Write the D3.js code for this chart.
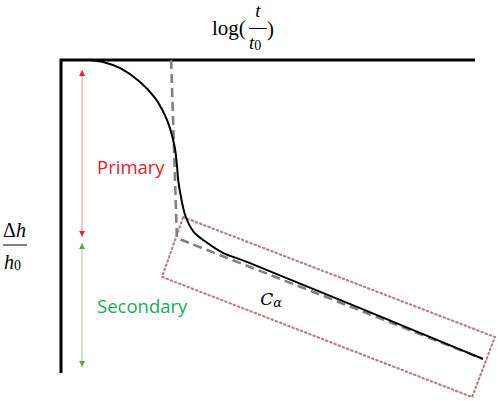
<!DOCTYPE html>
<html><head><meta charset="utf-8">
<script src="https://cdn.jsdelivr.net/npm/d3@7"></script>
<style>body{margin:0;background:#fff}svg{display:block}</style>
</head><body><svg id="c" width="498" height="401"></svg>
<script>
// consolidation curve: x = log(t/t0) (0..100), y = Δh/h0 (0..100)
const curveX = [7.0,10.6,14.3,19.1,22.7,25.1,26.3,27.5,28.0,28.3,28.8,30.1,32.0,35.3,39.1,44.9,101.9];
const curveY = [0,0.8,2.6,7.0,12.1,17.6,21.7,28.1,33.5,38.3,42.5,50.0,54.8,58.4,61.6,64.5,95.5];
// tangent construction (dashed)
const asymX = [26.6,28.0,101.9];
const asymY = [0,56.9,95.5];
// dotted box around secondary slope
const boxX = [29.5,104.8,99.3,24.4];
const boxY = [50.2,88.5,107.7,69.3];
// phases
const phases = ["Primary","Secondary"];
const phaseStart = [3.2,58.5];
const phaseEnd = [56.5,98.1];
const phaseColors = ["#e8202a","#22a85a"];
const axisDomainX = [0,100];
const axisDomainY = [0,100];

const svg = d3.select("#c");
const x = d3.scaleLinear().domain(axisDomainX).range([61,475]);
const y = d3.scaleLinear().domain(axisDomainY).range([60,373]);

const defs = svg.append("defs");
function marker(id, color){
  defs.append("marker").attr("id",id).attr("viewBox","0 0 10 10")
    .attr("refX",10).attr("refY",5).attr("markerWidth",6).attr("markerHeight",6)
    .attr("markerUnits","userSpaceOnUse").attr("orient","auto")
    .append("path").attr("d","M0,0L10,5L0,10Z").attr("fill",color);
}
marker("mr","#e8202a");
marker("mg","#6aa040");

// axes
svg.append("path")
  .attr("d", d3.line()([[x(axisDomainX[1]),y(0)],[x(0),y(0)],[x(0),y(axisDomainY[1])]]))
  .attr("fill","none").attr("stroke","#000").attr("stroke-width",3)
  .attr("stroke-linejoin","miter");

// dotted box
svg.append("path")
  .attr("d", d3.line()(boxX.map((v,i)=>[x(v),y(boxY[i])])) + "Z")
  .attr("fill","none").attr("stroke","#b08585").attr("stroke-width",2.2)
  .attr("stroke-dasharray","1.5,3").attr("stroke-linecap","round");

// dashed construction
svg.append("path")
  .attr("d", d3.line()(asymX.map((v,i)=>[x(v),y(asymY[i])])))
  .attr("fill","none").attr("stroke","#808080").attr("stroke-width",2.6)
  .attr("stroke-dasharray","9,5");

// curve
svg.append("path")
  .attr("d", d3.line().curve(d3.curveCatmullRom.alpha(0.5))(curveX.map((v,i)=>[x(v),y(curveY[i])])))
  .attr("fill","none").attr("stroke","#000").attr("stroke-width",2);

// phase arrows (double-headed)
const arrowX = 5.1;
const arrowLine = ["#f2a4a4","#bcd8a8"];
const arrowHead = ["mr","mg"];
phases.forEach((p,i)=>{
  svg.append("line").attr("x1",x(arrowX)).attr("x2",x(arrowX))
    .attr("y1",y(phaseEnd[i])).attr("y2",y(phaseStart[i]))
    .attr("stroke",arrowLine[i]).attr("stroke-width",1.3)
    .attr("marker-end",`url(#${arrowHead[i]})`).attr("marker-start",null);
  svg.append("line").attr("x1",x(arrowX)).attr("x2",x(arrowX))
    .attr("y1",y(phaseStart[i])).attr("y2",y(phaseEnd[i]))
    .attr("stroke","none").attr("marker-end",`url(#${arrowHead[i]})`);
});

// phase labels
const labelPos = [[8.7,36.4],[8.7,80.8]];
phases.forEach((p,i)=>{
  svg.append("text").attr("x",x(labelPos[i][0])).attr("y",y(labelPos[i][1]))
    .attr("font-family","'Open Sans', sans-serif").attr("font-size",18.5)
    .attr("fill",phaseColors[i]).text(p);
});

// C_alpha label
const ca = svg.append("text").attr("x",x(48.1)).attr("y",y(78.3))
  .attr("font-family","'DejaVu Serif', serif").attr("font-style","italic").attr("fill","#000");
ca.append("tspan").attr("font-size",17).text("C");
ca.append("tspan").attr("font-size",13).attr("dy",2).text("α");

// x-axis title: log(t/t0)
const serif = "'Liberation Serif', serif";
svg.append("text").attr("x",212).attr("y",35).attr("font-family",serif).attr("font-size",21).text("log(");
svg.append("text").attr("x",258).attr("y",17).attr("text-anchor","middle")
  .attr("font-family",serif).attr("font-style","italic").attr("font-size",19).text("t");
svg.append("line").attr("x1",249).attr("x2",267).attr("y1",28.5).attr("y2",28.5).attr("stroke","#000").attr("stroke-width",1);
const den = svg.append("text").attr("x",249).attr("y",49).attr("font-family",serif).attr("font-size",19);
den.append("tspan").attr("font-style","italic").text("t");
den.append("tspan").attr("font-size",14).attr("dy",1).text("0");
svg.append("text").attr("x",267).attr("y",36).attr("font-family",serif).attr("font-size",21).text(")");

// y-axis title: Δh/h0
const yn = svg.append("text").attr("x",3).attr("y",237).attr("font-family",serif).attr("font-size",20);
yn.append("tspan").text("Δ");
yn.append("tspan").attr("font-style","italic").text("h");
svg.append("line").attr("x1",3).attr("x2",27).attr("y1",245).attr("y2",245).attr("stroke","#000").attr("stroke-width",1);
const yd = svg.append("text").attr("x",4).attr("y",269).attr("font-family",serif).attr("font-size",20);
yd.append("tspan").attr("font-style","italic").text("h");
yd.append("tspan").attr("font-size",14).attr("dy",1).text("0");
</script></body></html>
